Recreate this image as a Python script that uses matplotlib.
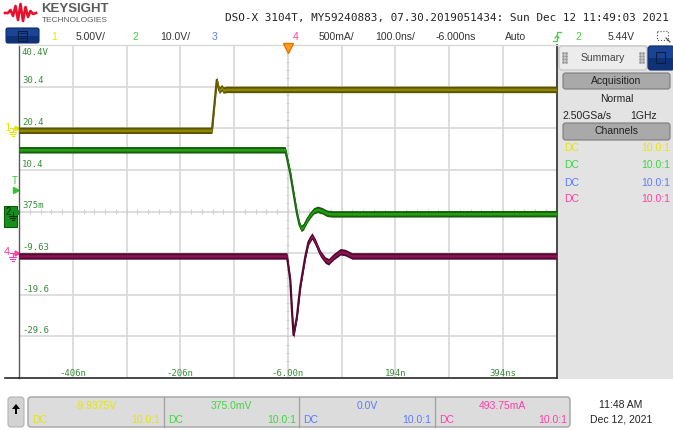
import matplotlib
matplotlib.use('Agg')
import matplotlib.pyplot as plt
from matplotlib.patches import Rectangle, FancyBboxPatch, Polygon
import numpy as np

# screen size in pixels
W, H = 673, 430

# time base: 100 ns/div, centre at -6 ns, 10 divisions
t_center = -6.0
t_per_div = 100.0

# channel settings (scale per div, offset at screen centre)
ch1_scale, ch1_offset = 5.0, -9.9375
ch2_scale, ch2_offset = 10.0, 0.375
ch4_scale, ch4_offset = 0.5, 0.49375

# waveforms (time in ns)
ch1_t = [-506, -147, -138, -133.6, -128.5, -126, -120, 494]
ch1_v = [-0.18, -0.18, 5.87, 4.6, 4.94, 4.65, 4.73, 4.73]

ch2_t = [-506, -10.7, -1.3, 4.8, 11.1, 16.0, 19.1, 23.4, 29.8, 35.9, 42.0,
         49.5, 57.7, 67.0, 76.3, 494]
ch2_v = [15.2, 15.2, 9.56, 4.75, -0.06, -2.87, -3.66, -3.28, -1.67, -0.47,
         0.50, 0.90, 0.57, -0.06, -0.2, -0.15]

ch4_t = [-506, -7.5, -1.3, 1.8, 4.8, 11.1, 17.3, 26.6, 32.7, 39.1, 45.2,
         54.5, 63.8, 70.0, 79.3, 91.8, 101.1, 113.5, 494]
ch4_i = [-0.04, -0.04, -0.33, -0.69, -0.99, -0.77, -0.41, -0.05, 0.13, 0.20,
         0.13, -0.01, -0.09, -0.11, -0.05, 0.01, 0.0, -0.04, -0.04]

# graticule labels
ylab_div = [4, 3, 2, 1, 0, -1, -2, -3]
ylab_text = ['40.4V', '30.4', '20.4', '10.4', '375m', '-9.63', '-19.6', '-29.6']
xlab_t = [-406, -206, -6, 194, 394]
xlab_text = ['-406n', '-206n', '-6.00n', '194n', '394ns']

title = 'DSO-X 3104T, MY59240883, 07.30.2019051434: Sun Dec 12 11:49:03 2021'

ch_colors = ['#e6e600', '#3fd63f', '#5b7cff', '#ff3fa6']
ch_offsets_txt = ['-9.9375V', '375.0mV', '0.0V', '493.75mA']

fig = plt.figure(figsize=(W / 100, H / 100), dpi=100)
fig.patch.set_facecolor('white')

# background axes in pixel coordinates for the UI chrome
bg = fig.add_axes([0, 0, 1, 1])
bg.set_xlim(0, W)
bg.set_ylim(H, 0)
bg.axis('off')

SANS = 'Liberation Sans'
MONO = 'DejaVu Sans Mono'

# ---- header ----
logo_x = [5, 8, 10.5, 13, 15.5, 18, 20.5, 23, 25.5, 28, 30.5, 33, 36]
logo_y = [13, 13, 10, 16, 6, 20, 4, 21, 7, 17, 11, 14, 13]
bg.plot(logo_x, logo_y, color='#e8112d', lw=1.9, solid_joinstyle='round')
bg.text(41, 8.5, 'KEYSIGHT', family=SANS, fontsize=9.5, fontweight='bold',
        color='#5c5c5c', va='center')
bg.text(42, 20, 'TECHNOLOGIES', family=SANS, fontsize=6, color='#5c5c5c', va='center')
bg.text(669, 18, title, family=MONO, fontsize=7.9, color='#222222', ha='right', va='center')

# menu button top-left
bg.add_patch(FancyBboxPatch((6, 28), 33, 15, boxstyle='round,pad=0,rounding_size=2',
                            fc='#1b4594', ec='#0e2b66', lw=0.8))
bg.add_patch(Rectangle((6.5, 36), 32, 6.5, fc='#0f3276', ec='none'))
bg.add_patch(Rectangle((18, 30.5), 9, 10, fc='none', ec='#0a1d45', lw=0.8))
for yy in [33, 35.5, 38]:
    bg.plot([19.5, 25.5], [yy, yy], color='#0a1d45', lw=0.6)

row_y = 36.5
bg.text(54, row_y, '1', family=SANS, fontsize=7.5, color=ch_colors[0], ha='center', va='center')
bg.text(91, row_y, '5.00V/', family=SANS, fontsize=7.5, color='#333333', ha='center', va='center')
bg.text(135, row_y, '2', family=SANS, fontsize=7.5, color=ch_colors[1], ha='center', va='center')
bg.text(175, row_y, '10.0V/', family=SANS, fontsize=7.5, color='#333333', ha='center', va='center')
bg.text(215, row_y, '3', family=SANS, fontsize=7.5, color=ch_colors[2], ha='center', va='center')
bg.text(296, row_y, '4', family=SANS, fontsize=7.5, color=ch_colors[3], ha='center', va='center')
bg.text(336, row_y, '500mA/', family=SANS, fontsize=7.5, color='#333333', ha='center', va='center')
bg.text(395, row_y, '100.0ns/', family=SANS, fontsize=7.5, color='#333333', ha='center', va='center')
bg.text(456, row_y, '-6.000ns', family=SANS, fontsize=7.5, color='#333333', ha='center', va='center')
bg.text(516, row_y, 'Auto', family=SANS, fontsize=7.5, color='#333333', ha='center', va='center')
# trigger edge icon
bg.plot([553, 557, 557, 561], [41, 41, 32, 32], color=ch_colors[1], lw=0.9)
bg.plot([555, 557, 559], [38, 35.5, 38], color=ch_colors[1], lw=0.9)
bg.text(578, row_y, '2', family=SANS, fontsize=7.5, color=ch_colors[1], ha='center', va='center')
bg.text(621, row_y, '5.44V', family=SANS, fontsize=7.5, color='#333333', ha='center', va='center')
bg.add_patch(Rectangle((657, 31), 11, 9, fc='none', ec='#555555', lw=0.8, ls=':'))
bg.plot([666, 670], [38, 42], color='#444444', lw=0.8)

# ---- right summary panel ----
bg.add_patch(Rectangle((557.5, 45), W - 557.5, 334, fc='#e3e3e3', ec='none'))
bg.add_patch(FancyBboxPatch((559, 46), 88, 24, boxstyle='round,pad=0,rounding_size=3',
                            fc='#ececec', ec='#c2c2c2', lw=0.8))
for gx in [563, 565.5, 640, 642.5]:
    for gy in [53, 56, 59, 62]:
        bg.plot(gx, gy, marker='s', ms=0.9, color='#9a9a9a')
bg.text(603, 58, 'Summary', family=SANS, fontsize=7.5, color='#444444', ha='center', va='center')
bg.add_patch(FancyBboxPatch((648, 46), 26, 24, boxstyle='round,pad=0,rounding_size=3',
                            fc='#1b4594', ec='#0e2b66', lw=0.8))
bg.add_patch(Rectangle((648.5, 58), 25, 11.5, fc='#0f3276', ec='none'))
bg.add_patch(Rectangle((656, 52), 9, 11, fc='none', ec='#0a1d45', lw=0.8))

bg.add_patch(FancyBboxPatch((563, 73), 107, 16, boxstyle='round,pad=0,rounding_size=2.5',
                            fc='#a9a9a9', ec='#7c7c7c', lw=0.8))
bg.text(616.5, 81.5, 'Acquisition', family=SANS, fontsize=7.5, color='#222222', ha='center', va='center')
bg.text(616.5, 99.5, 'Normal', family=SANS, fontsize=7.5, color='#222222', ha='center', va='center')
bg.text(562, 116, '2.50GSa/s', family=SANS, fontsize=7.5, color='#222222', va='center')
bg.text(657, 116, '1GHz', family=SANS, fontsize=7.5, color='#222222', ha='right', va='center')
bg.add_patch(FancyBboxPatch((563, 123), 107, 17, boxstyle='round,pad=0,rounding_size=2.5',
                            fc='#a9a9a9', ec='#7c7c7c', lw=0.8))
bg.text(616.5, 131.5, 'Channels', family=SANS, fontsize=7.5, color='#222222', ha='center', va='center')
for yy, c in zip([148, 165.5, 182.5, 199], ch_colors):
    bg.text(564, yy, 'DC', family=SANS, fontsize=7.5, color=c, va='center')
    bg.text(670, yy, '10.0:1', family=SANS, fontsize=7.5, color=c, ha='right', va='center')

# ---- bottom bar ----
bg.add_patch(FancyBboxPatch((8, 397), 16, 30, boxstyle='round,pad=0,rounding_size=3',
                            fc='#d3d3d3', ec='#b3b3b3', lw=0.8))
bg.add_patch(Polygon([[16, 404], [12, 409], [20, 409]], closed=True, fc='black', ec='none'))
bg.add_patch(Rectangle((14.8, 408.5), 2.4, 5, fc='black', ec='none'))
bg.add_patch(FancyBboxPatch((28, 397), 542, 30, boxstyle='round,pad=0,rounding_size=3',
                            fc='#dcdcdc', ec='#a3a3a3', lw=1.0))
for dx in [163.5, 299, 434.5]:
    bg.plot([dx, dx], [397, 427], color='#a3a3a3', lw=1.0)
for cx, dcx, rx, txt, c in zip([96, 231, 367, 502], [32, 168, 303, 439],
                               [160, 296, 431, 567], ch_offsets_txt, ch_colors):
    bg.text(cx, 406, txt, family=SANS, fontsize=7.5, color=c, ha='center', va='center')
    bg.text(dcx, 420, 'DC', family=SANS, fontsize=7.5, color=c, va='center')
    bg.text(rx, 420, '10.0:1', family=SANS, fontsize=7.5, color=c, ha='right', va='center')
bg.text(621, 405, '11:48 AM', family=SANS, fontsize=7.5, color='#222222', ha='center', va='center')
bg.text(621, 420, 'Dec 12, 2021', family=SANS, fontsize=7.5, color='#222222', ha='center', va='center')

# ---- left side channel markers ----
def gnd(x, y, color):
    bg.plot([x, x], [y, y + 4], color=color, lw=0.8)
    bg.plot([x - 3.5, x + 3.5], [y + 4, y + 4], color=color, lw=0.8)
    bg.plot([x - 2.2, x + 2.2], [y + 6, y + 6], color=color, lw=0.8)
    bg.plot([x - 1, x + 1], [y + 8, y + 8], color=color, lw=0.8)

bg.text(7, 128, '1', family=SANS, fontsize=8, color=ch_colors[0], ha='center', va='center')
bg.plot([9.5, 16], [128, 128], color=ch_colors[0], lw=0.8)
bg.plot(17, 128, marker='>', ms=3.5, color=ch_colors[0])
gnd(12.5, 128, ch_colors[0])

bg.text(15, 181, 'T', family=SANS, fontsize=7, color='#33c433', ha='center', va='center')
bg.plot(15.5, 190, marker='>', ms=5, color='#33c433')

bg.add_patch(Rectangle((4, 206), 13, 21, fc='#15901a', ec='#0b5a0b', lw=0.8))
bg.text(8, 212, '2', family=SANS, fontsize=7, color='#0a2a0a', ha='center', va='center')
gnd(12.5, 212, '#0a2a0a')
bg.plot(18.5, 212, marker='>', ms=3.5, color='#15901a')

bg.text(7, 252, '4', family=SANS, fontsize=8, color=ch_colors[3], ha='center', va='center')
bg.plot([9.5, 16], [252.5, 252.5], color=ch_colors[3], lw=0.8)
bg.plot(17, 252.5, marker='>', ms=3.5, color=ch_colors[3])
gnd(12.5, 252.5, ch_colors[3])

# ---- graticule ----
x0, y0, x1, y1 = 19, 45, 556.5, 378
ax = fig.add_axes([x0 / W, 1 - y1 / H, (x1 - x0) / W, (y1 - y0) / H])
ax.set_facecolor('white')
t_left = t_center - 5 * t_per_div
t_right = t_center + 5 * t_per_div
ax.set_xlim(t_left, t_right)
ax.set_ylim(-4, 4)
ax.set_xticks([])
ax.set_yticks([])

for i in range(1, 10):
    ax.axvline(t_left + i * t_per_div, color='#d8d8d8', lw=1.2, zorder=1)
for j in range(-3, 4):
    ax.axhline(j, color='#d8d8d8', lw=1.2, zorder=1)
# minor ticks on the centre lines
minor_div = np.arange(-4, 4.01, 0.2)
ax.hlines(minor_div, t_center - 2.6, t_center + 2.6, color='#cfcfcf', lw=0.8, zorder=1)
minor_t = np.arange(t_left, t_right + 0.1, t_per_div / 5)
ax.vlines(minor_t, -0.07, 0.07, color='#cfcfcf', lw=0.8, zorder=1)

for sp in ['left']:
    ax.spines[sp].set_color('#5a5a5a')
    ax.spines[sp].set_linewidth(1.0)
for sp in ['bottom', 'right']:
    ax.spines[sp].set_color('#2a2a2a')
    ax.spines[sp].set_linewidth(1.2)
ax.spines['top'].set_color('#d8d8d8')
ax.spines['top'].set_linewidth(1.0)
bg.plot([5, 19], [378.3, 378.3], color='#2a2a2a', lw=1.2)

lab_color = '#3a8d3a'
lab_x = t_left + 5.5
for d, txt in zip(ylab_div, ylab_text):
    if d == 4:
        ax.text(lab_x, d - 0.07, txt, family=MONO, fontsize=6.5, color=lab_color,
                va='top', ha='left', zorder=2)
    else:
        ax.text(lab_x, d + 0.03, txt, family=MONO, fontsize=6.5, color=lab_color,
                va='bottom', ha='left', zorder=2)
for t, txt in zip(xlab_t, xlab_text):
    ax.text(t, -3.88, txt, family=MONO, fontsize=6.5, color=lab_color,
            ha='center', va='center', zorder=2)

# trigger position marker
ax.plot(t_center, 3.93, marker='v', ms=6.5, color='#ff9a1a', mec='#e07800',
        clip_on=False, zorder=6)


def draw_trace(t, v, scale, offset, dark, mid, half=0.078):
    d = (np.array(v, dtype=float) - offset) / scale
    ax.fill_between(t, d - half, d + half, color=dark, lw=0, zorder=3)
    ax.plot(t, d, color=dark, lw=1.6, zorder=3, solid_joinstyle='round')
    ax.fill_between(t, d - half * 0.4, d + half * 0.4, color=mid, lw=0, zorder=4)


draw_trace(ch1_t, ch1_v, ch1_scale, ch1_offset, '#5a5400', '#8f8600')
draw_trace(ch2_t, ch2_v, ch2_scale, ch2_offset, '#175f0c', '#22a012')
draw_trace(ch4_t, ch4_i, ch4_scale, ch4_offset, '#4e0829', '#8e1257')

fig.savefig('out.png', dpi=100, facecolor='white')
